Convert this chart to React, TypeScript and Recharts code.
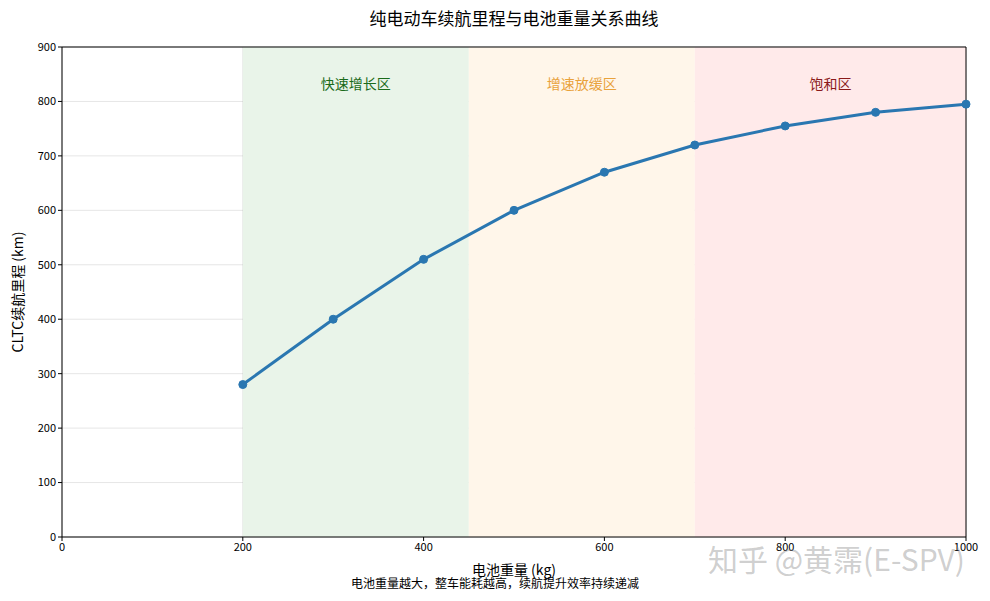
import React from 'react';
import {
  LineChart,
  Line,
  XAxis,
  YAxis,
  CartesianGrid,
  ReferenceArea,
  ReferenceLine,
} from 'recharts';

const weights = [200, 300, 400, 500, 600, 700, 800, 900, 1000];
const ranges = [280, 400, 510, 600, 670, 720, 755, 780, 795];
const xTicks = [0, 200, 400, 600, 800, 1000];
const yTicks = [0, 100, 200, 300, 400, 500, 600, 700, 800, 900];

const zoneNames = ['快速增长区', '增速放缓区', '饱和区'];
const zoneStarts = [200, 450, 700];
const zoneEnds = [450, 700, 1000];
const zoneFills = ['#e9f4e9', '#fff6ea', '#ffeaea'];
const zoneTextColors = ['#1a6b1a', '#e9a23b', '#8b1a1a'];

const FONT = '"Noto Sans CJK SC", "Noto Sans", sans-serif';

const chartData = weights.map((w, i) => ({ weight: w, range: ranges[i] }));

export default function App() {
  return (
    <div style={{ position: 'absolute', left: 0, top: 0, width: 990, height: 601, background: '#fff', fontFamily: FONT }}>
      <div style={{ position: 'absolute', left: 0, width: 1028, top: 5, textAlign: 'center', fontSize: 17, color: '#000' }}>
        纯电动车续航里程与电池重量关系曲线
      </div>
      <LineChart
        width={990}
        height={601}
        data={chartData}
        margin={{ top: 47, right: 24, bottom: 34, left: 0 }}
      >
        {zoneNames.map((name, i) => (
          <ReferenceArea
            key={name}
            x1={zoneStarts[i]}
            x2={zoneEnds[i]}
            y1={0}
            y2={900}
            fill={zoneFills[i]}
            fillOpacity={1}
            stroke="none"
            label={{
              value: name,
              position: 'insideTop',
              offset: 32,
              fill: zoneTextColors[i],
              fontSize: 14,
              fontFamily: FONT,
            }}
          />
        ))}
        <CartesianGrid stroke="#000" strokeOpacity={0.1} />
        <XAxis
          dataKey="weight"
          type="number"
          domain={[0, 1000]}
          ticks={xTicks}
          stroke="#000"
          tickLine={{ stroke: '#000' }}
          tickSize={4}
          height={30}
          tick={{ fill: '#000', fontSize: 11, fontFamily: FONT }}
          label={{ value: '电池重量 (kg)', position: 'insideTop', offset: 28, fill: '#000', fontSize: 14, fontFamily: FONT }}
        />
        <YAxis
          type="number"
          domain={[0, 900]}
          ticks={yTicks}
          width={62}
          stroke="#000"
          tickSize={4}
          tick={{ fill: '#000', fontSize: 11, fontFamily: FONT }}
          label={{
            value: 'CLTC续航里程 (km)',
            angle: -90,
            position: 'insideLeft',
            offset: 18,
            fill: '#000',
            fontSize: 14,
            fontFamily: FONT,
            style: { textAnchor: 'middle' },
          }}
        />
        <ReferenceLine y={900} stroke="#000" strokeWidth={1} />
        <ReferenceLine x={1000} stroke="#000" strokeWidth={1} />
        <Line
          type="linear"
          dataKey="range"
          stroke="#2a77b1"
          strokeWidth={3}
          dot={{ r: 4, fill: '#2a77b1', stroke: '#2a77b1', strokeWidth: 1 }}
          isAnimationActive={false}
        />
      </LineChart>
      <div style={{ position: 'absolute', left: 0, width: 990, top: 574, textAlign: 'center', fontSize: 12, color: '#000' }}>
        电池重量越大，整车能耗越高，续航提升效率持续递减
      </div>
      <div style={{ position: 'absolute', left: 708, top: 536, fontSize: 30, color: 'rgba(130,130,130,0.4)', whiteSpace: 'nowrap' }}>
        知乎 @黄霈(E-SPV)
      </div>
    </div>
  );
}
